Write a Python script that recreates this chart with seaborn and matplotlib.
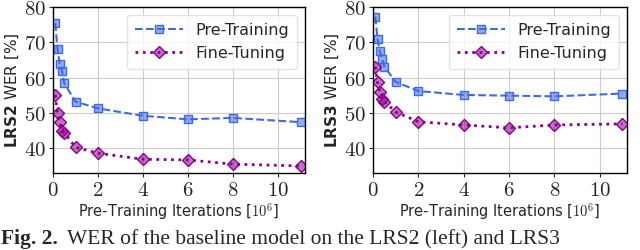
import numpy as np
import pandas as pd
import matplotlib
matplotlib.use('Agg')
import matplotlib.pyplot as plt
import seaborn as sns
from matplotlib.colors import to_rgba
from matplotlib.ticker import FuncFormatter

# data
iters = [0.1, 0.2, 0.3, 0.4, 0.5, 1, 2, 4, 6, 8, 11]
lrs2_pre = [75.4, 68.1, 63.9, 61.9, 58.4, 53.2, 51.3, 49.2, 48.2, 48.6, 47.4]
lrs2_ft = [55.1, 49.9, 47.5, 45.0, 44.4, 40.3, 38.6, 36.9, 36.7, 35.5, 35.0]
lrs3_pre = [77.3, 70.9, 67.5, 65.2, 63.1, 58.8, 56.2, 55.1, 54.9, 54.7, 55.5]
lrs3_ft = [63.1, 58.7, 56.0, 53.9, 53.2, 50.3, 47.5, 46.6, 45.8, 46.6, 46.9]

sns.set_style('whitegrid', {'grid.color': '#cccccc', 'axes.edgecolor': 'black'})
plt.rcParams['font.family'] = ['DejaVu Sans']
plt.rcParams['mathtext.fontset'] = 'cm'

blue = '#4169e1'
purple = '#8b008b'

fig = plt.figure(figsize=(6.4, 2.5), dpi=100)
ax1 = fig.add_axes([53 / 640, 1 - 173 / 250, 252 / 640, 166 / 250])
ax2 = fig.add_axes([373 / 640, 1 - 173 / 250, 254 / 640, 166 / 250])

panels = [(ax1, lrs2_pre, lrs2_ft, 'LRS2'),
          (ax2, lrs3_pre, lrs3_ft, 'LRS3')]

for ax, pre, ft, name in panels:
    df = pd.DataFrame({'it': iters, 'pre': pre, 'ft': ft})
    sns.lineplot(data=df, x='it', y='pre', ax=ax, color=blue, linestyle='--',
                 marker='s', markersize=6, markerfacecolor=to_rgba(blue, 0.55),
                 markeredgecolor=blue, markeredgewidth=1.0, label='Pre-Training')
    sns.lineplot(data=df, x='it', y='ft', ax=ax, color=purple, linestyle=':',
                 linewidth=2, marker='D', markersize=6,
                 markerfacecolor=to_rgba(purple, 0.55), markeredgecolor=purple,
                 markeredgewidth=1.0, label='Fine-Tuning')
    ax.set_xlim(0, 11.2)
    ax.set_ylim(33, 80)
    ax.set_xticks([0, 2, 4, 6, 8, 10])
    ax.set_yticks([40, 50, 60, 70, 80])
    fmt = FuncFormatter(lambda v, p: r'$%d$' % v)
    ax.xaxis.set_major_formatter(fmt)
    ax.yaxis.set_major_formatter(fmt)
    ax.tick_params(axis='both', labelsize=15, length=3, width=0.8,
                   direction='out', bottom=True, left=True, pad=2)
    for s in ax.spines.values():
        s.set_color('black')
        s.set_linewidth(1.0)
    ax.set_xlabel(r'Pre-Training Iterations [$10^6$]', fontsize=10.5, labelpad=1)
    ax.set_ylabel(r'$\mathbf{%s}\ \mathrm{WER}\ [\%%]$' % name, fontsize=11,
                  labelpad=2, math_fontfamily='dejavusans')
    leg = ax.legend(loc='upper right', fontsize=11.5, handlelength=3,
                    frameon=True, fancybox=True, framealpha=0.8,
                    borderpad=0.5, labelspacing=0.5)
    leg.get_frame().set_edgecolor('#dddddd')

fig.text(0.002, 0.004, 'Fig. 2.', fontsize=15.5, fontweight='bold',
         family='Liberation Serif', va='bottom', ha='left')
fig.text(0.105, 0.004, 'WER of the baseline model on the LRS2 (left) and LRS3',
         fontsize=15.5, family='Liberation Serif', va='bottom', ha='left')

fig.savefig('out.png', dpi=100)
